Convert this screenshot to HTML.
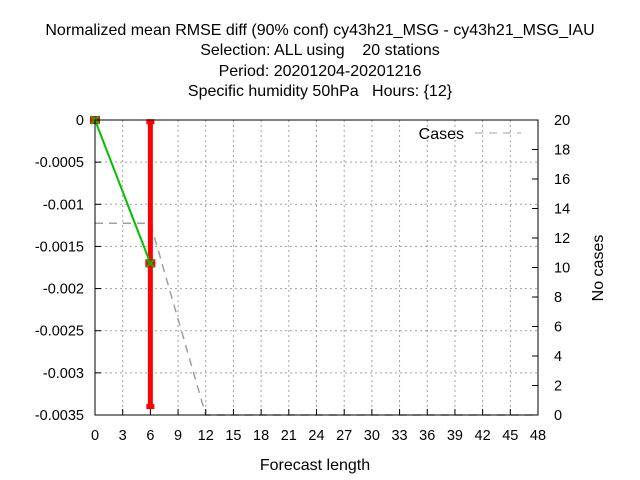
<!DOCTYPE html>
<html><head><meta charset="utf-8"><style>
body{margin:0;background:#fff;}
svg{display:block;font-family:"Liberation Sans",sans-serif;}
text{white-space:pre;}
</style></head><body>
<svg id="chart" width="640" height="480">
<g font-size="16" text-anchor="middle" fill="#000">
<text x="320" y="35">Normalized mean RMSE diff (90% conf) cy43h21_MSG - cy43h21_MSG_IAU</text>
<text x="320" y="55">Selection: ALL using    20 stations</text>
<text x="320" y="76">Period: 20201204-20201216</text>
<text x="320" y="96">Specific humidity 50hPa   Hours: {12}</text>
</g>
<g id="grid"></g>
<g id="series"></g>
<rect x="95" y="120" width="443" height="295" fill="none" stroke="#000" stroke-width="1"/>
<g id="axes" font-size="14.5"></g>
<text x="315" y="470" font-size="16" text-anchor="middle">Forecast length</text>
<text transform="translate(603,268) rotate(-90)" font-size="16" text-anchor="middle">No cases</text>
<g>
<text x="464" y="139" font-size="16" text-anchor="end">Cases</text>
<line x1="475" y1="133" x2="521" y2="133" stroke="#a0a0a0" stroke-dasharray="8,6"/>
</g>
</svg>
<script>
const xTicks=[0,3,6,9,12,15,18,21,24,27,30,33,36,39,42,45,48];
const yTicks=[0,-0.0005,-0.001,-0.0015,-0.002,-0.0025,-0.003,-0.0035];
const yTickLabels=["0","-0.0005","-0.001","-0.0015","-0.002","-0.0025","-0.003","-0.0035"];
const y2Ticks=[0,2,4,6,8,10,12,14,16,18,20];
const leadTimes=[0,6];
const meanDiff=[0,-0.0017];
const errLow=[0,-0.0034];
const errHigh=[0,-0.00002];
const caseHours=[0,6,12,15,18,21,24,27,30,33,36,39,42,45,48];
const caseCounts=[13,13,0,0,0,0,0,0,0,0,0,0,0,0,0];
const L=95,R=538,T=120,B=415;
const X=h=>L+(h/48)*(R-L);
const Y=v=>T+(v/-0.0035)*(B-T);
const Y2=c=>B-(c/20)*(B-T);
const NS="http://www.w3.org/2000/svg";
function mk(tag,attrs,parent,text){const e=document.createElementNS(NS,tag);for(const k in attrs)e.setAttribute(k,attrs[k]);if(text!==undefined)e.textContent=text;parent.appendChild(e);return e;}
const grid=document.getElementById('grid'),axes=document.getElementById('axes'),ser=document.getElementById('series');
xTicks.forEach(h=>{
 const g=mk('line',{x1:X(h),x2:X(h),y1:T,y2:B,stroke:'#a0a0a0','stroke-dasharray':'2,3'},grid);
 
 
 const t=mk('line',{x1:X(h),x2:X(h),y1:B,y2:B-6,stroke:'#000'},axes);
 
 
 const l=mk('text',{x:X(h),y:B+25,'text-anchor':'middle'},axes,String(h));
 
 
});
yTicks.forEach((v,i)=>{
 const g=mk('line',{x1:L,x2:R,y1:Y(v),y2:Y(v),stroke:'#a0a0a0','stroke-dasharray':'2,3'},grid);
 
 
 const t=mk('line',{x1:L,x2:L+6,y1:Y(v),y2:Y(v),stroke:'#000'},axes);
 
 
 const l=mk('text',{x:L-11,y:Y(v)+5,'text-anchor':'end'},axes,yTickLabels[i]);
 
 
});
y2Ticks.forEach(c=>{
 const t=mk('line',{x1:R-6,x2:R,y1:Y2(c),y2:Y2(c),stroke:'#000'},axes);
 
 
 const l=mk('text',{x:R+16,y:Y2(c)+5,'text-anchor':'start'},axes,String(c));
 
 
});
const cp=mk('polyline',{points:caseHours.map((h,i)=>X(h)+','+Y2(caseCounts[i])).join(' '),fill:'none',stroke:'#a0a0a0','stroke-width':1.5,'stroke-dasharray':'8,6'},ser);


leadTimes.forEach((h,i)=>{
 if(errLow[i]===errHigh[i])return;
 const e=mk('line',{x1:X(h),x2:X(h),y1:Y(errHigh[i]),y2:Y(errLow[i]),stroke:'#ff0000','stroke-width':5},ser);
 
 
 [errHigh[i],errLow[i]].forEach(v=>{
  const c=mk('line',{x1:X(h)-4,x2:X(h)+4,y1:Y(v),y2:Y(v),stroke:'#ff0000','stroke-width':5},ser);
  
  
 });
});
const ml=mk('polyline',{points:leadTimes.map((h,i)=>X(h)+','+Y(meanDiff[i])).join(' '),fill:'none',stroke:'#00c000','stroke-width':2},ser);


leadTimes.forEach((h,i)=>{
 const x=X(h),y=Y(meanDiff[i]);
 const r=mk('rect',{x:x-5,y:y-4,width:10,height:8,fill:'#ff0000'},ser);
 
 
 const p=mk('path',{d:`M${x-4},${y-4}L${x+4},${y+4}M${x-4},${y+4}L${x+4},${y-4}`,stroke:'#00c000','stroke-width':2},ser);
 
 
});
</script>
</body></html>
